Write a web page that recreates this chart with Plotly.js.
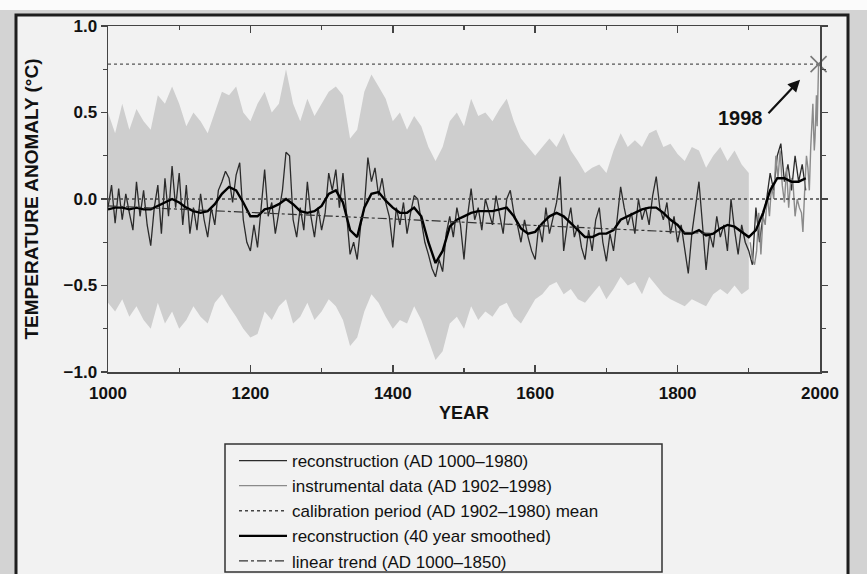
<!DOCTYPE html>
<html>
<head>
<meta charset="utf-8">
<script src="https://cdn.plot.ly/plotly-3.0.1.min.js"></script>
<style>html,body{margin:0;padding:0;background:#d3d3d3;}#chart{width:867px;height:574px;}</style>
</head>
<body>
<div id="chart"></div>
<script>
// ---------- DATA ----------
const reconStart = 1000, reconStep = 5;
const reconValues = [
 -0.05,0.08,-0.14,0.06,-0.12,0.03,-0.08,-0.18,0.10,-0.10,0.05,-0.15,-0.27,-0.05,0.08,-0.20,0.12,-0.10,0.19,-0.05,
 0.15,-0.15,0.08,-0.20,-0.05,-0.18,0.03,-0.12,-0.22,-0.05,-0.15,0.05,0.10,0.16,0.12,-0.02,0.14,0.21,-0.12,-0.25,
 -0.30,-0.15,-0.28,-0.05,0.17,-0.10,-0.02,-0.20,-0.08,0.05,0.27,0.25,-0.12,-0.22,-0.05,-0.18,0.10,-0.10,-0.22,-0.05,
 -0.18,-0.08,0.15,0.05,0.17,-0.05,0.15,-0.10,-0.32,-0.25,-0.35,-0.15,-0.05,0.24,0.10,0.18,0.02,0.12,-0.02,-0.10,
 -0.28,-0.05,-0.15,-0.02,-0.20,-0.08,0.02,0.00,-0.12,-0.25,-0.32,-0.40,-0.45,-0.35,-0.42,-0.20,-0.10,-0.22,-0.05,-0.15,
 -0.35,-0.10,0.06,-0.12,-0.05,-0.18,0.00,-0.08,-0.15,0.02,-0.10,-0.20,0.00,0.05,-0.08,-0.15,-0.25,-0.12,-0.22,-0.30,
 -0.35,-0.15,-0.25,-0.05,-0.20,-0.10,-0.02,0.13,-0.30,-0.15,-0.05,-0.22,-0.15,-0.28,-0.35,-0.18,-0.30,-0.12,-0.05,-0.25,
 -0.36,-0.20,-0.30,-0.12,0.07,-0.05,-0.15,-0.08,-0.20,0.00,-0.12,-0.05,-0.15,0.02,0.13,-0.05,-0.12,-0.02,-0.20,-0.10,
 -0.25,-0.15,-0.30,-0.43,-0.20,-0.05,0.10,-0.15,-0.41,-0.20,-0.28,-0.10,-0.22,-0.15,-0.30,0.00,-0.18,-0.32,-0.15,-0.25,
 -0.30,-0.38,-0.05,-0.25,-0.10,0.00,0.15,0.05,0.25,0.32,0.10,0.20,0.05,0.25,0.10,0.20,0.05
];

const smoothStart = 1000, smoothStep = 10;
const smoothValues = [
 -0.06,-0.05,-0.05,-0.06,-0.05,-0.06,-0.06,-0.04,-0.02,0.00,
 -0.02,-0.05,-0.07,-0.08,-0.07,-0.03,0.03,0.07,0.05,-0.02,
 -0.10,-0.10,-0.06,-0.05,-0.03,0.00,-0.03,-0.07,-0.08,-0.07,
 -0.04,0.03,0.05,-0.02,-0.18,-0.22,-0.05,0.03,0.04,-0.01,
 -0.05,-0.08,-0.08,-0.05,-0.10,-0.25,-0.37,-0.30,-0.16,-0.12,
 -0.10,-0.08,-0.07,-0.07,-0.07,-0.06,-0.05,-0.10,-0.17,-0.20,
 -0.19,-0.14,-0.10,-0.08,-0.10,-0.14,-0.18,-0.22,-0.22,-0.20,
 -0.20,-0.18,-0.12,-0.10,-0.08,-0.06,-0.05,-0.05,-0.08,-0.12,
 -0.15,-0.20,-0.20,-0.18,-0.21,-0.20,-0.17,-0.15,-0.16,-0.19,
 -0.22,-0.18,-0.08,0.05,0.12,0.12,0.10,0.10,0.12
];

const bandStart = 1000, bandStep = 10;
const bandUpper = [
 0.50,0.38,0.55,0.40,0.52,0.45,0.40,0.60,0.55,0.65,
 0.55,0.42,0.50,0.45,0.38,0.50,0.62,0.60,0.65,0.50,
 0.45,0.55,0.62,0.50,0.55,0.75,0.55,0.45,0.58,0.48,
 0.55,0.62,0.65,0.60,0.35,0.40,0.62,0.72,0.65,0.58,
 0.45,0.50,0.40,0.48,0.42,0.30,0.22,0.30,0.45,0.50,
 0.42,0.58,0.48,0.50,0.45,0.52,0.58,0.45,0.35,0.30,
 0.25,0.30,0.35,0.30,0.38,0.28,0.22,0.15,0.18,0.20,
 0.15,0.28,0.38,0.30,0.34,0.30,0.38,0.40,0.30,0.32,
 0.26,0.22,0.30,0.28,0.18,0.25,0.30,0.22,0.28,0.20,
 0.15
];
const bandLower = [
 -0.60,-0.65,-0.58,-0.68,-0.62,-0.70,-0.75,-0.60,-0.72,-0.65,
 -0.75,-0.70,-0.62,-0.68,-0.72,-0.60,-0.55,-0.62,-0.68,-0.75,
 -0.80,-0.78,-0.65,-0.70,-0.62,-0.58,-0.72,-0.68,-0.60,-0.70,
 -0.65,-0.58,-0.62,-0.70,-0.85,-0.80,-0.65,-0.55,-0.60,-0.68,
 -0.75,-0.70,-0.72,-0.62,-0.70,-0.82,-0.93,-0.88,-0.72,-0.68,
 -0.75,-0.62,-0.70,-0.65,-0.68,-0.62,-0.60,-0.68,-0.72,-0.65,
 -0.58,-0.55,-0.50,-0.48,-0.55,-0.52,-0.58,-0.60,-0.55,-0.50,
 -0.58,-0.52,-0.45,-0.50,-0.48,-0.55,-0.45,-0.50,-0.55,-0.58,
 -0.60,-0.62,-0.58,-0.60,-0.62,-0.55,-0.52,-0.55,-0.50,-0.55,
 -0.52
];

const instYears = [1902,1905,1908,1911,1914,1917,1920,1923,1926,1929,
 1932,1935,1938,1941,1944,1947,1950,1953,1956,1959,
 1962,1965,1968,1971,1974,1976,1979,1981,1983,1985,
 1987,1988,1990,1991,1992,1993,1994,1995,1996,1997,1998];
const instValues = [-0.25,-0.35,-0.38,-0.30,-0.08,-0.32,-0.10,-0.15,0.02,-0.10,
 0.08,0.00,0.25,0.12,0.28,0.08,-0.02,0.18,-0.05,0.12,
 0.10,-0.10,0.00,-0.05,-0.08,-0.19,0.10,0.25,0.18,0.05,
 0.30,0.42,0.55,0.40,0.28,0.35,0.45,0.60,0.42,0.62,0.78];

const calibYears = [1000, 2000];
const calibMean = [0.0, 0.0];
const trendYears = [1000, 1850];
const trendValues = [-0.04, -0.20];
const peakYear = 1998;
const peakValue = 0.78;
const levelYears = [1000, 1998];

const legendNames = [
 "reconstruction (AD 1000–1980)",
 "instrumental data (AD 1902–1998)",
 "calibration period (AD 1902–1980) mean",
 "reconstruction (40 year smoothed)",
 "linear trend (AD 1000–1850)"
];
const xTitle = "YEAR";
const yTitle = "TEMPERATURE ANOMALY (°C)";
const peakLabel = "1998";

// ---------- BUILD ----------
function yearsFor(start, step, n){ const a=[]; for(let i=0;i<n;i++) a.push(start+i*step); return a; }
const reconYears = yearsFor(reconStart, reconStep, reconValues.length);
const smoothYears = yearsFor(smoothStart, smoothStep, smoothValues.length);
const bandYears = yearsFor(bandStart, bandStep, bandUpper.length);

const FONT = "Liberation Sans, Arial, Helvetica, sans-serif";
const BAND = '#cecece';

const traces = [
 {x: bandYears, y: bandUpper, type:'scatter', mode:'lines', line:{width:0, color:BAND}, showlegend:false, hoverinfo:'skip'},
 {x: bandYears, y: bandLower, type:'scatter', mode:'lines', line:{width:0, color:BAND}, fill:'tonexty', fillcolor:BAND, showlegend:false, hoverinfo:'skip'},
 {x: reconYears, y: reconValues, type:'scatter', mode:'lines', name: legendNames[0], line:{color:'#2b2b2b', width:1.3}},
 {x: instYears, y: instValues, type:'scatter', mode:'lines', name: legendNames[1], line:{color:'#8a8a8a', width:1.4}},
 {x: calibYears, y: calibMean, type:'scatter', mode:'lines', name: legendNames[2], line:{color:'#444', width:1.3, dash:'dot'}},
 {x: smoothYears, y: smoothValues, type:'scatter', mode:'lines', name: legendNames[3], line:{color:'#000', width:2.4}},
 {x: trendYears, y: trendValues, type:'scatter', mode:'lines', name: legendNames[4], line:{color:'#333', width:1.2, dash:'dashdot'}},
 {x: levelYears, y: [peakValue, peakValue], type:'scatter', mode:'lines', showlegend:false, line:{color:'#555', width:1.3, dash:'dot'}, hoverinfo:'skip'},
 {x: [peakYear], y: [peakValue], type:'scatter', mode:'markers', showlegend:false, cliponaxis:false,
  marker:{symbol:'x-thin-open', size:16, color:'#777', line:{color:'#777', width:1.6}}}
];

const L = 108, R = 820, T = 26, B = 372;
const W = R - L, H = B - T;
const px2xp = p => (p - L) / W;
const py2yp = p => (B - p) / H;

const layout = {
 width: 867, height: 574,
 margin: {l: L, r: 867 - R, t: T, b: 574 - B, pad: 0, autoexpand: false},
 paper_bgcolor: '#d3d3d3',
 plot_bgcolor: 'rgba(0,0,0,0)',
 font: {family: FONT, color: '#111'},
 showlegend: true,
 legend: {
  x: px2xp(234), y: py2yp(443), xanchor:'left', yanchor:'top',
  traceorder: 'normal',
  bgcolor:'rgba(0,0,0,0)', borderwidth:0,
  font:{family: FONT, size:17, color:'#111'},
  itemwidth: 48, tracegroupgap: 0
 },
 xaxis: {
  range: [1000, 2000], tick0: 1000, dtick: 200,
  ticks: 'inside', ticklen: 7, tickwidth: 1.5, tickcolor: '#444',
  minor: {dtick: 100, ticks: 'inside', ticklen: 4, tickwidth: 1.3, tickcolor:'#444'},
  showline: true, linecolor: '#444', linewidth: 1.5, mirror: 'ticks',
  showgrid: false, zeroline: false,
  ticklabelstandoff: 5,
  tickfont: {family: FONT, size: 17, color: '#111', weight: 'bold'},
  title: {text: xTitle, font: {family: FONT, size: 18, color: '#111', weight: 'bold'}, standoff: 4}
 },
 yaxis: {
  range: [-1, 1], tick0: -1, dtick: 0.5, tickformat: '.1f',
  ticks: 'outside', ticklen: 6, tickwidth: 1.5, tickcolor: '#444',
  minor: {dtick: 0.25, ticks: 'outside', ticklen: 4, tickwidth: 1.3, tickcolor:'#444'},
  showline: true, linecolor: '#444', linewidth: 1.5, mirror: 'ticks',
  showgrid: false, zeroline: false,
  tickfont: {family: FONT, size: 17, color: '#111', weight: 'bold'},
  title: {text: yTitle, font: {family: FONT, size: 19, color: '#111', weight: 'bold'}, standoff: 20}
 },
 shapes: [
  {type:'rect', xref:'paper', yref:'paper', x0: px2xp(-5), x1: px2xp(875), y0: py2yp(10), y1: py2yp(-5), fillcolor:'#fbfbfb', line:{width:0}, layer:'below'},
  {type:'rect', xref:'paper', yref:'paper', x0: px2xp(16), x1: px2xp(848), y0: py2yp(600), y1: py2yp(15), fillcolor:'#f2f2f2', line:{color:'#1e1e1e', width:3}, layer:'below'},
  {type:'rect', xref:'paper', yref:'paper', x0: px2xp(225), x1: px2xp(662), y0: py2yp(572), y1: py2yp(444), fillcolor:'rgba(0,0,0,0)', line:{color:'#333', width:1.5}, layer:'below'}
 ],
 annotations: [
  {x: 1888, y: 0.47, xref:'x', yref:'y', text: peakLabel, showarrow:false, font:{family: FONT, size: 20, color:'#111', weight:'bold'}},
  {x: 1972, y: 0.69, xref:'x', yref:'y', text: '', showarrow:true, ax:-33, ay:35, arrowhead:2, arrowsize:1.1, arrowwidth:2.2, arrowcolor:'#111'}
 ]
};

Plotly.newPlot('chart', traces, layout, {displayModeBar:false, staticPlot:true});
</script>
</body>
</html>
